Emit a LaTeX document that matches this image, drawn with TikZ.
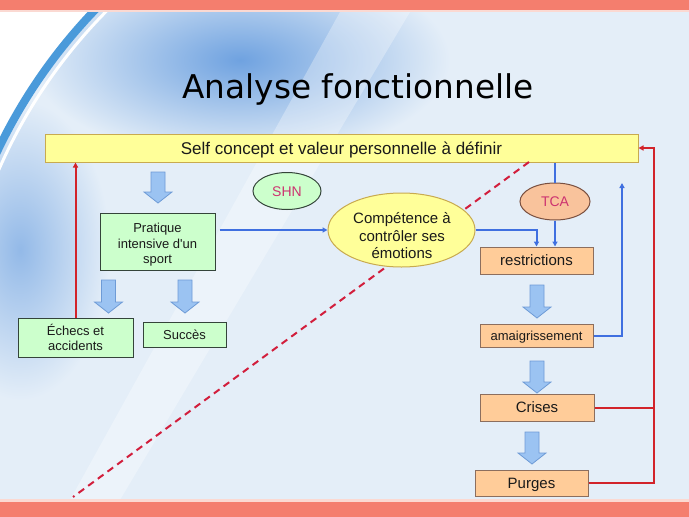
\documentclass[tikz,border=0pt]{standalone}
\usepackage{fontspec}
\setmainfont{Liberation Sans}
\newfontfamily\titlefont{DejaVu Sans}
\usetikzlibrary{arrows.meta,shapes.geometric}
\definecolor{band}{HTML}{F47E6E}
\definecolor{bandlight}{HTML}{FBD9D2}
\definecolor{bgpale}{HTML}{E4EEF8}
\definecolor{bgblue}{HTML}{6FA2E0}
\definecolor{rimblue}{HTML}{4A9ADA}
\definecolor{yfill}{HTML}{FFFF99}
\definecolor{ydraw}{HTML}{C8AA50}
\definecolor{gfill}{HTML}{CCFFCC}
\definecolor{gdraw}{HTML}{34443A}
\definecolor{pfill}{HTML}{FFCC99}
\definecolor{pdraw}{HTML}{8C6E5E}
\definecolor{tfill}{HTML}{F9C39C}
\definecolor{tdraw}{HTML}{7A5040}
\definecolor{lblue}{HTML}{3F6FE0}
\definecolor{lred}{HTML}{D2232A}
\definecolor{dred}{HTML}{D21E3C}
\definecolor{afill}{HTML}{9BC3F2}
\definecolor{adraw}{HTML}{6E9BD6}
\definecolor{magtext}{HTML}{CC3370}
\definecolor{txt}{HTML}{1A1A1A}
\newcommand{\blockarrowdraw}[3]{\draw[blockarr] ({#1-7},#2) -- ({#1+7},#2) -- ({#1+7},{#3-11}) -- ({#1+14},{#3-11}) -- (#1,#3) -- ({#1-14},{#3-11}) -- ({#1-7},{#3-11}) -- cycle;}
\begin{document}
\begin{tikzpicture}[x=1pt,y=-1pt,
  box/.style={draw, rectangle, inner sep=1pt, align=center, line width=1pt, text=txt},
  gbox/.style={box, fill=gfill, draw=gdraw, font=\fontsize{13}{15.5}\selectfont},
  pbox/.style={box, fill=pfill, draw=pdraw},
  f15/.style={font=\fontsize{15}{17}\selectfont, text height=10.7pt, text depth=0pt},
  f13/.style={font=\fontsize{13}{15}\selectfont, text height=9.3pt, text depth=0pt},
  ell/.style={draw, ellipse, inner sep=0pt, align=center, line width=1pt, text=txt},
  blockarr/.style={fill=afill, draw=adraw, line width=0.8pt, line join=miter},
  bluecon/.style={draw=lblue, line width=2pt, -{Triangle[length=5pt,width=5pt]}},
  bluelin/.style={draw=lblue, line width=2pt},
  redcon/.style={draw=lred, line width=2pt, -{Triangle[length=5pt,width=5pt]}},
  redlin/.style={draw=lred, line width=2pt},
  reddash/.style={draw=dred, line width=2pt, dash pattern=on 7pt off 5pt}]
\useasboundingbox (0,0) rectangle (689,517);
% background
\fill[white] (0,0) rectangle (689,517);
\begin{scope}
  \clip (0,12) rectangle (689,500);
  \fill[bgpale] (480,380) circle [radius=530];
  \begin{scope}
    \clip (480,380) circle [radius=530];
    \shade[inner color=bgblue, outer color=bgpale] (240,60) ellipse [x radius=210, y radius=100];
    \shade[inner color=bgblue!75, outer color=bgpale] (20,250) ellipse [x radius=90, y radius=150];
    \fill[white, opacity=0.3] (340,12) -- (410,12) -- (120,500) -- (70,500) -- cycle;
  \end{scope}
  \draw[rimblue, line width=8pt] (480,380) circle [radius=534];
  \draw[white, line width=3pt] (480,380) circle [radius=525];
\end{scope}
% bands
\fill[band] (0,0) rectangle (689,10);
\fill[bandlight] (0,10) rectangle (689,12);
\fill[bandlight] (0,499) rectangle (689,502);
\fill[band] (0,502) rectangle (689,517);
% title
\node[font=\titlefont\fontsize{32.7}{36}\selectfont, anchor=base, text=black, inner sep=0pt] (title) at (358,98) {Analyse fonctionnelle};
% top bar
\node[box, fill=yfill, draw=ydraw, minimum width=593pt, minimum height=28pt, font=\fontsize{17}{19}\selectfont, text height=12.2pt, text depth=0pt] (bar) at (341.5,148) {Self concept et valeur personnelle à définir};
% dashed line (behind the ellipse)
\coordinate (d1) at (529,162);
\coordinate (d2) at (73,497);
\draw[reddash] (d1) -- (d2);
% left column
\node[gbox, minimum width=115pt, minimum height=57pt, text height=43pt, text depth=0pt] (prat) at (157.5,242) {Pratique\\intensive d\textquotesingle un\\sport};
\node[gbox, minimum width=115pt, minimum height=39pt] (echecs) at (75.5,337.5) {Échecs et\\accidents};
\node[gbox, minimum width=83pt, minimum height=25pt, text height=9.3pt, text depth=0pt] (succes) at (184.5,335) {Succès};
\node[ell, fill=gfill, draw=gdraw, minimum width=68pt, minimum height=37pt, text=magtext, font=\fontsize{14}{16}\selectfont, text height=10pt, text depth=0pt] (shn) at (287,191) {SHN};
% middle
\node[ell, fill=yfill, draw=ydraw, minimum width=147pt, minimum height=74pt] (comp) at (401.5,230) {};
\node[align=center, text=txt, inner sep=0pt, font=\fontsize{15}{17.5}\selectfont] (comptext) at (402,236) {Compétence à\\contrôler ses\\émotions};
% right column
\node[ell, fill=tfill, draw=tdraw, minimum width=70pt, minimum height=37pt, text=magtext, font=\fontsize{14}{16}\selectfont, text height=10pt, text depth=0pt] (tca) at (555,201.5) {TCA};
\node[pbox, minimum width=113pt, minimum height=27pt, f15] (restr) at (536.5,260.5) {restrictions};
\node[pbox, minimum width=113pt, minimum height=23pt, f13] (amaig) at (536.5,335.5) {amaigrissement};
\node[pbox, minimum width=114pt, minimum height=27pt, f15] (crises) at (537,407.5) {Crises};
\node[pbox, minimum width=113pt, minimum height=26pt, f15] (purges) at (531.5,483) {Purges};
% block arrows
\blockarrowdraw{158}{172}{203}
\blockarrowdraw{108.5}{280}{313}
\blockarrowdraw{185}{280}{313}
\blockarrowdraw{537}{285}{318}
\blockarrowdraw{537}{361}{393}
\blockarrowdraw{532}{432}{464}
% connectors
\draw[redcon] (echecs.north) -- (echecs.north |- bar.south);
\draw[bluecon, shorten <=4pt] (prat.east |- comp.west) -- (comp.west);
\draw[bluecon] (comp.east) -| (restr.north);
\draw[bluelin] (tca.north |- bar.south) -- (tca.north);
\draw[bluecon] (tca.south) -- (tca.south |- restr.north);
\coordinate (up) at (622,183);
\draw[bluecon] (amaig.east) -| (up);
\coordinate (rr) at (654,148);
\draw[redcon] (purges.east) -| (rr) -- (bar.east);
\draw[redlin] (crises.east) -- (crises.east -| rr);
\end{tikzpicture}
\end{document}
